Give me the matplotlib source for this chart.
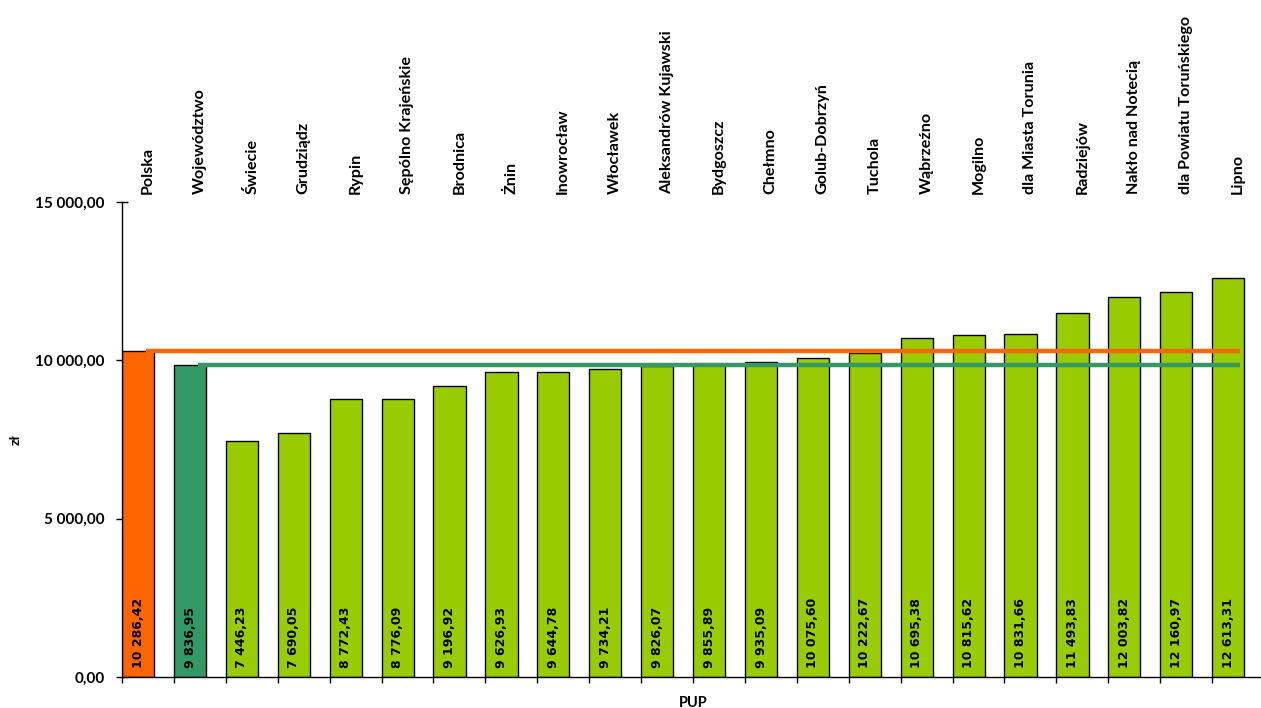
import matplotlib
matplotlib.use("Agg")
import matplotlib.pyplot as plt
import matplotlib.transforms as mtransforms
from matplotlib.ticker import FuncFormatter

# Data
categories = [
    "Polska", "Województwo", "Świecie", "Grudziądz", "Rypin", "Sępólno Krajeńskie",
    "Brodnica", "Żnin", "Inowrocław", "Włocławek", "Aleksandrów Kujawski",
    "Bydgoszcz", "Chełmno", "Golub-Dobrzyń", "Tuchola", "Wąbrzeźno", "Mogilno",
    "dla Miasta Torunia", "Radziejów", "Nakło nad Notecią",
    "dla Powiatu Toruńskiego", "Lipno",
]
values = [
    10286.42, 9836.95, 7446.23, 7690.05, 8772.43, 8776.09, 9196.92, 9626.93,
    9644.78, 9734.21, 9826.07, 9855.89, 9935.09, 10075.60, 10222.67, 10695.38,
    10815.62, 10831.66, 11493.83, 12003.82, 12160.97, 12613.31,
]
polska_avg = values[0]
woj_avg = values[1]
y_ticks = [0, 5000, 10000, 15000]

ORANGE = "#FF6600"
DARK_GREEN = "#339966"
LIGHT_GREEN = "#99CC00"


def pl_fmt(v, pos=None):
    s = f"{v:,.2f}"
    return s.replace(",", " ").replace(".", ",")


fig = plt.figure(figsize=(12.61, 7.08), dpi=100, facecolor="white")
ax = fig.add_axes([122 / 1261, 1 - 677 / 708, 1142 / 1261, 475 / 708])

n = len(categories)
xs = list(range(n))
colors = [ORANGE, DARK_GREEN] + [LIGHT_GREEN] * (n - 2)
bar_w = 0.62

ax.bar(xs, values, width=bar_w, align="edge", color=colors,
       edgecolor="black", linewidth=1.0, zorder=2)

# Reference lines (Polska / Województwo)
ax.plot([0.46, n - 0.46], [polska_avg, polska_avg], color=ORANGE, lw=3.2,
        zorder=3, solid_capstyle="butt")
ax.plot([1.46, n - 0.46], [woj_avg, woj_avg], color=DARK_GREEN, lw=3.2,
        zorder=3, solid_capstyle="butt")

# Value labels inside bars
for x, v in zip(xs, values):
    ax.annotate(pl_fmt(v), xy=(x + bar_w / 2, 0), xytext=(0, 6.5),
                textcoords="offset points", rotation=90, ha="center",
                va="bottom", fontsize=9, family="DejaVu Sans",
                fontweight="bold", zorder=4)

# Category labels above plot
trans = mtransforms.blended_transform_factory(ax.transData, ax.transAxes)
for x, name in zip(xs, categories):
    ax.annotate(name, xy=(x + 0.5, 1), xycoords=trans, xytext=(0, 6),
                textcoords="offset points", rotation=90, ha="center",
                va="bottom", fontsize=11.6, family="Lato", fontweight="bold",
                annotation_clip=False)

# Axes
ax.set_xlim(0, n)
ax.set_ylim(0, 15000)
ax.set_xticks(range(n + 1))
ax.set_xticklabels([])
ax.set_yticks(y_ticks)
ax.yaxis.set_major_formatter(FuncFormatter(pl_fmt))
ax.tick_params(axis="x", direction="out", length=4.2, width=1, color="black")
ax.tick_params(axis="y", direction="inout", length=8.6, width=1, pad=8,
               labelsize=11)
for lab in ax.get_yticklabels():
    lab.set_family("Lato")
    lab.set_fontweight("bold")

ax.spines["top"].set_visible(False)
ax.spines["right"].set_visible(False)
ax.spines["left"].set_linewidth(1)
ax.spines["bottom"].set_linewidth(1)

ax.set_xlabel("PUP", fontsize=10.5, family="Lato", fontweight="bold")
ax.xaxis.set_label_coords(571 / 1142, -19 / 475)
ax.set_ylabel("zł", fontsize=10, family="Lato", fontweight="bold")
ax.yaxis.set_label_coords(-100 / 1142, 237 / 475)

plt.savefig("out.png", dpi=100, facecolor="white")
